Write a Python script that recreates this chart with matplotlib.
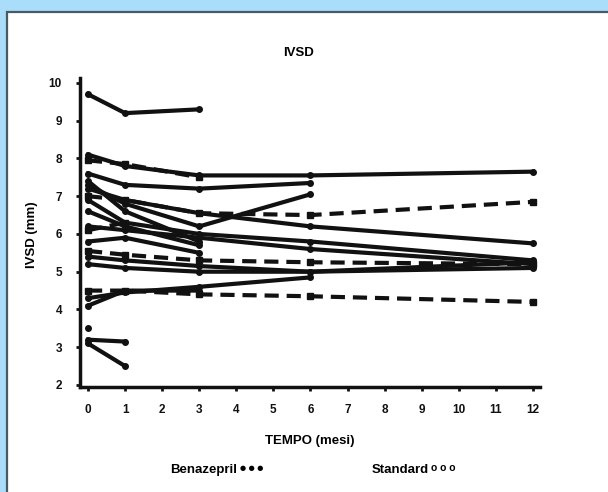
import matplotlib
matplotlib.use("Agg")
import matplotlib.pyplot as plt
from matplotlib.patches import Rectangle

plt.rcParams["font.family"] = ["Liberation Sans", "DejaVu Sans"]
plt.rcParams["font.weight"] = "bold"

# follow-up months and IVSD (mm) per patient; group B = Benazepril, S = Standard
patients = [
    ("B", [0, 1, 3], [9.7, 9.2, 9.3]),
    ("B", [0, 1, 3, 6, 12], [8.1, 7.8, 7.55, 7.55, 7.65]),
    ("S", [0, 1, 3], [7.95, 7.85, 7.5]),
    ("B", [0, 1, 3, 6], [7.6, 7.3, 7.2, 7.35]),
    ("B", [0, 1, 3, 6], [7.3, 6.8, 6.2, 7.05]),
    ("S", [0, 1, 3, 6, 12], [7.0, 6.9, 6.55, 6.5, 6.85]),
    ("B", [0, 1, 3, 6, 12], [7.2, 6.9, 6.55, 6.2, 5.75]),
    ("B", [0, 1, 3, 6, 12], [6.9, 6.3, 6.0, 5.8, 5.3]),
    ("B", [0, 1, 3], [6.6, 6.2, 5.7]),
    ("B", [0, 1, 3], [7.4, 6.6, 5.8]),
    ("B", [0, 1, 3, 6, 12], [6.2, 6.1, 5.9, 5.6, 5.2]),
    ("S", [0, 1], [6.1, 6.3]),
    ("B", [0, 1, 3], [5.8, 5.9, 5.5]),
    ("S", [0, 1, 3, 6, 12], [5.55, 5.45, 5.3, 5.25, 5.2]),
    ("B", [0, 1, 3, 6, 12], [5.4, 5.3, 5.15, 5.0, 5.1]),
    ("B", [0, 1, 3, 6, 12], [5.2, 5.1, 5.0, 5.0, 5.25]),
    ("S", [0, 1, 3, 6, 12], [4.5, 4.5, 4.4, 4.35, 4.2]),
    ("B", [0, 1, 3, 6], [4.3, 4.45, 4.6, 4.85]),
    ("B", [0, 1, 3], [4.1, 4.5, 4.5]),
    ("B", [0], [3.5]),
    ("B", [0, 1], [3.2, 3.15]),
    ("B", [0, 1], [3.1, 2.5]),
]
x_ticks = list(range(0, 13))
y_ticks = list(range(2, 11))

fig = plt.figure(figsize=(6.08, 4.92), dpi=100)
fig.patch.set_facecolor("#a9ddf9")
fig.patches.append(Rectangle((6.5 / 608, -0.05), 1.1, 1.05 - 11.5 / 492,
                             transform=fig.transFigure, facecolor="white",
                             edgecolor="#4a5a64", lw=1.6, zorder=-1))

ax = fig.add_axes([80 / 608, 1 - 387 / 492, 460 / 608, 309 / 492])
ax.set_facecolor("none")
ax.set_zorder(2)

for grp, t, v in patients:
    if grp == "S":
        ax.plot(t, v, color="#111111", lw=3.0, dashes=(3.4, 1.9),
                marker="s", ms=4, solid_capstyle="butt")
    else:
        ax.plot(t, v, color="#111111", lw=3.0, marker="o", ms=4)

ax.set_xlim(-0.216, 12.19)
ax.set_ylim(1.947, 10.13)
ax.set_xticks(x_ticks)
ax.set_yticks(y_ticks)
ax.tick_params(direction="out", length=3, width=2, labelsize=8.5, colors="#111111")
ax.tick_params(axis="y", pad=10)
ax.tick_params(axis="x", pad=9)
for s in ("top", "right"):
    ax.spines[s].set_visible(False)
for s in ("left", "bottom"):
    ax.spines[s].set_linewidth(2.5)
    ax.spines[s].set_color("#111111")

ax.set_xlabel("TEMPO (mesi)", fontsize=9.5, fontweight="bold", labelpad=14)
fig.text(32 / 608, 1 - 235 / 492, "IVSD (mm)", rotation=90, ha="center",
         va="center", fontsize=9.5, fontweight="bold")
fig.text(298 / 608, 1 - 53 / 492, "IVSD", ha="center", va="center",
         fontsize=9.5, fontweight="bold")

fig.text(170 / 608, 1 - 470 / 492, "Benazepril", ha="left", va="center",
         fontsize=9.5, fontweight="bold")
fig.text(240 / 608, 1 - 468 / 492, "\u25cf \u25cf \u25cf", ha="left", va="center",
         fontsize=5, family=["DejaVu Sans"])
fig.text(372 / 608, 1 - 470 / 492, "Standard", ha="left", va="center",
         fontsize=9.5, fontweight="bold")
fig.text(431 / 608, 1 - 468 / 492, "o o o", ha="left", va="center",
         fontsize=7.5, fontweight="bold")

fig.savefig("out.png", dpi=100, facecolor=fig.get_facecolor())
